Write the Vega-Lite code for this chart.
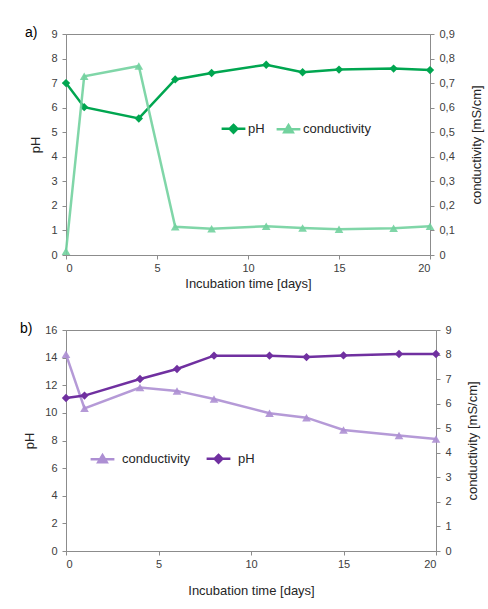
{
  "$schema": "https://vega.github.io/schema/vega-lite/v6.json",
  "background": "white",
  "padding": {"left": 19, "top": 25, "right": 5, "bottom": 5},
  "spacing": 30,
  "resolve": {"scale": {"color": "independent"}, "legend": {"color": "independent"}},
  "config": {
    "font": "Liberation Sans",
    "view": {"stroke": "#8c8c8c", "strokeWidth": 1},
    "axis": {
      "grid": false,
      "domainColor": "#8c8c8c",
      "tickColor": "#8c8c8c",
      "tickSize": 4,
      "labelFont": "Liberation Sans",
      "labelFontSize": 11,
      "labelColor": "#404040",
      "titleFont": "Liberation Sans",
      "titleFontSize": 13,
      "titleFontWeight": "normal",
      "titleColor": "#262626"
    },
    "legend": {
      "labelFont": "Liberation Sans",
      "labelFontSize": 13,
      "labelColor": "#262626",
      "symbolSize": 49,
      "labelOffset": 8,
      "padding": 0
    },
    "title": {"font": "Liberation Sans", "fontSize": 14, "fontWeight": "normal", "color": "#000000"}
  },
  "datasets": {
    "a": [
      {"day": 0, "series": "pH", "value": 7.0},
      {"day": 1, "series": "pH", "value": 6.02},
      {"day": 4, "series": "pH", "value": 5.56},
      {"day": 6, "series": "pH", "value": 7.15},
      {"day": 8, "series": "pH", "value": 7.41},
      {"day": 11, "series": "pH", "value": 7.75},
      {"day": 13, "series": "pH", "value": 7.44},
      {"day": 15, "series": "pH", "value": 7.55},
      {"day": 18, "series": "pH", "value": 7.59},
      {"day": 20, "series": "pH", "value": 7.53},
      {"day": 0, "series": "conductivity", "value": 0.015},
      {"day": 1, "series": "conductivity", "value": 0.728},
      {"day": 4, "series": "conductivity", "value": 0.77},
      {"day": 6, "series": "conductivity", "value": 0.115},
      {"day": 8, "series": "conductivity", "value": 0.107},
      {"day": 11, "series": "conductivity", "value": 0.117},
      {"day": 13, "series": "conductivity", "value": 0.11},
      {"day": 15, "series": "conductivity", "value": 0.105},
      {"day": 18, "series": "conductivity", "value": 0.109},
      {"day": 20, "series": "conductivity", "value": 0.117}
    ],
    "b": [
      {"day": 0, "series": "pH", "value": 11.08},
      {"day": 1, "series": "pH", "value": 11.25},
      {"day": 4, "series": "pH", "value": 12.45},
      {"day": 6, "series": "pH", "value": 13.18},
      {"day": 8, "series": "pH", "value": 14.14},
      {"day": 11, "series": "pH", "value": 14.14},
      {"day": 13, "series": "pH", "value": 14.04},
      {"day": 15, "series": "pH", "value": 14.16},
      {"day": 18, "series": "pH", "value": 14.26},
      {"day": 20, "series": "pH", "value": 14.26},
      {"day": 0, "series": "conductivity", "value": 8.01},
      {"day": 1, "series": "conductivity", "value": 5.81},
      {"day": 4, "series": "conductivity", "value": 6.66},
      {"day": 6, "series": "conductivity", "value": 6.52},
      {"day": 8, "series": "conductivity", "value": 6.19},
      {"day": 11, "series": "conductivity", "value": 5.61},
      {"day": 13, "series": "conductivity", "value": 5.43},
      {"day": 15, "series": "conductivity", "value": 4.93},
      {"day": 18, "series": "conductivity", "value": 4.70},
      {"day": 20, "series": "conductivity", "value": 4.56}
    ]
  },
  "vconcat": [
    {
      "width": 364,
      "height": 221,
      "title": {"text": "a)", "anchor": "start", "frame": "group", "dx": -41, "dy": 12, "offset": 0},
      "data": {"name": "a"},
      "encoding": {
        "x": {
          "field": "day", "type": "quantitative",
          "scale": {"domain": [0, 20], "nice": false},
          "axis": {"title": "Incubation time [days]", "values": [0, 5, 10, 15, 20], "labelPadding": 3, "titlePadding": 4}
        }
      },
      "layer": [
        {
          "transform": [{"filter": "datum.series === 'pH'"}],
          "encoding": {
            "y": {
              "field": "value", "type": "quantitative",
              "scale": {"domain": [0, 9], "nice": false},
              "axis": {"title": "pH", "values": [0, 1, 2, 3, 4, 5, 6, 7, 8, 9], "labelPadding": 5, "titlePadding": 8}
            },
            "color": {
              "field": "series", "type": "nominal",
              "scale": {"domain": ["pH", "conductivity"], "range": ["#00a650", "#72d29e"]},
              "legend": {
                "title": null, "orient": "none", "direction": "horizontal",
                "legendX": 161, "legendY": 88, "columnPadding": 6,
                "encode": {"symbols": {"update": {
                  "shape": {"signal": "datum.value === 'pH' ? 'M-3.4,0H3.4M0,-1.1L1.1,0L0,1.1L-1.1,0Z' : 'M-3.4,0H3.4M0,-1.2L1.2,0.8L-1.2,0.8Z'"},
                  "fill": {"signal": "datum.value === 'pH' ? '#00a650' : '#72d29e'"},
                  "stroke": {"signal": "datum.value === 'pH' ? '#00a650' : '#72d29e'"},
                  "strokeWidth": {"value": 2.5},
                  "opacity": {"value": 1}
                }}}
              }
            }
          },
          "layer": [
            {"mark": {"type": "line", "strokeWidth": 2.5}},
            {"mark": {"type": "point", "shape": "diamond", "filled": true, "size": 70, "opacity": 1}}
          ]
        },
        {
          "transform": [{"filter": "datum.series === 'conductivity'"}],
          "encoding": {
            "y": {
              "field": "value", "type": "quantitative",
              "scale": {"domain": [0, 0.9], "nice": false},
              "axis": {
                "title": "conductivity [mS/cm]", "orient": "right", "titleAngle": 270, "titleBaseline": "top",
                "values": [0, 0.1, 0.2, 0.3, 0.4, 0.5, 0.6, 0.7, 0.8, 0.9],
                "labelExpr": "datum.value === 0 ? '0' : replace(format(datum.value, '.1f'), '.', ',')",
                "labelPadding": 5, "titlePadding": 16
              }
            },
            "color": {
              "field": "series", "type": "nominal",
              "scale": {"domain": ["pH", "conductivity"], "range": ["#00a650", "#72d29e"]},
              "legend": {
                "title": null, "orient": "none", "direction": "horizontal",
                "legendX": 161, "legendY": 88, "columnPadding": 6,
                "encode": {"symbols": {"update": {
                  "shape": {"signal": "datum.value === 'pH' ? 'M-3.4,0H3.4M0,-1.1L1.1,0L0,1.1L-1.1,0Z' : 'M-3.4,0H3.4M0,-1.2L1.2,0.8L-1.2,0.8Z'"},
                  "fill": {"signal": "datum.value === 'pH' ? '#00a650' : '#72d29e'"},
                  "stroke": {"signal": "datum.value === 'pH' ? '#00a650' : '#72d29e'"},
                  "strokeWidth": {"value": 2.5},
                  "opacity": {"value": 1}
                }}}
              }
            }
          },
          "layer": [
            {"mark": {"type": "line", "strokeWidth": 2.5, "opacity": 0.9}},
            {"mark": {"type": "point", "shape": "triangle-up", "filled": true, "size": 75, "opacity": 0.9}}
          ]
        }
      ],
      "resolve": {"scale": {"y": "independent"}}
    },
    {
      "width": 370,
      "height": 221,
      "title": {"text": "b)", "anchor": "start", "frame": "group", "dx": -46, "dy": 12, "offset": 0},
      "data": {"name": "b"},
      "encoding": {
        "x": {
          "field": "day", "type": "quantitative",
          "scale": {"domain": [0, 20], "nice": false},
          "axis": {"title": "Incubation time [days]", "values": [0, 5, 10, 15, 20], "labelPadding": 3, "titlePadding": 15}
        }
      },
      "layer": [
        {
          "transform": [{"filter": "datum.series === 'conductivity'"}],
          "encoding": {
            "y": {
              "field": "value", "type": "quantitative",
              "scale": {"domain": [0, 9], "nice": false},
              "axis": {
                "title": "conductivity [mS/cm]", "orient": "right", "titleAngle": 270, "titleBaseline": "top",
                "values": [0, 1, 2, 3, 4, 5, 6, 7, 8, 9],
                "labelPadding": 5, "titlePadding": 15
              }
            },
            "color": {
              "field": "series", "type": "nominal",
              "scale": {"domain": ["conductivity", "pH"], "range": ["#ad8fd3", "#7030a0"]},
              "legend": {
                "title": null, "orient": "none", "direction": "horizontal",
                "legendX": 30, "legendY": 122, "columnPadding": 11, "labelOffset": 13,
                "encode": {"symbols": {"update": {
                  "shape": {"signal": "datum.value === 'pH' ? 'M-3.4,0H3.4M0,-1.1L1.1,0L0,1.1L-1.1,0Z' : 'M-3.4,0H3.4M0,-1.2L1.2,0.8L-1.2,0.8Z'"},
                  "fill": {"signal": "datum.value === 'pH' ? '#7030a0' : '#ad8fd3'"},
                  "stroke": {"signal": "datum.value === 'pH' ? '#7030a0' : '#ad8fd3'"},
                  "strokeWidth": {"value": 2.5},
                  "opacity": {"value": 1}
                }}}
              }
            }
          },
          "layer": [
            {"mark": {"type": "line", "strokeWidth": 2.5, "opacity": 0.9}},
            {"mark": {"type": "point", "shape": "triangle-up", "filled": true, "size": 75, "opacity": 0.9}}
          ]
        },
        {
          "transform": [{"filter": "datum.series === 'pH'"}],
          "encoding": {
            "y": {
              "field": "value", "type": "quantitative",
              "scale": {"domain": [0, 16], "nice": false},
              "axis": {"title": "pH", "orient": "left", "values": [0, 2, 4, 6, 8, 10, 12, 14, 16], "labelPadding": 5, "titlePadding": 8}
            },
            "color": {
              "field": "series", "type": "nominal",
              "scale": {"domain": ["conductivity", "pH"], "range": ["#ad8fd3", "#7030a0"]},
              "legend": {
                "title": null, "orient": "none", "direction": "horizontal",
                "legendX": 30, "legendY": 122, "columnPadding": 11, "labelOffset": 13,
                "encode": {"symbols": {"update": {
                  "shape": {"signal": "datum.value === 'pH' ? 'M-3.4,0H3.4M0,-1.1L1.1,0L0,1.1L-1.1,0Z' : 'M-3.4,0H3.4M0,-1.2L1.2,0.8L-1.2,0.8Z'"},
                  "fill": {"signal": "datum.value === 'pH' ? '#7030a0' : '#ad8fd3'"},
                  "stroke": {"signal": "datum.value === 'pH' ? '#7030a0' : '#ad8fd3'"},
                  "strokeWidth": {"value": 2.5},
                  "opacity": {"value": 1}
                }}}
              }
            }
          },
          "layer": [
            {"mark": {"type": "line", "strokeWidth": 2.5}},
            {"mark": {"type": "point", "shape": "diamond", "filled": true, "size": 70, "opacity": 1}}
          ]
        }
      ],
      "resolve": {"scale": {"y": "independent"}}
    }
  ]
}
